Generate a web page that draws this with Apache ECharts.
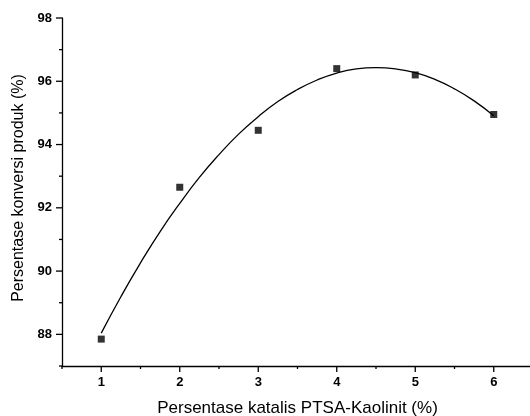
<!DOCTYPE html>
<html><head><meta charset="utf-8">
<script src="https://cdn.jsdelivr.net/npm/echarts@6/dist/echarts.min.js"></script>
<style>html,body{margin:0;padding:0;background:#fff}#c{width:530px;height:416px}</style>
</head><body><div id="c"></div>
<script>
const pointX = [1, 2, 3, 4, 5, 6];
const pointY = [87.85, 92.65, 94.45, 96.4, 96.2, 94.95];
const curveX = [1, 1.25, 1.5, 1.75, 2, 2.25, 2.5, 2.75, 3, 3.25, 3.5, 3.75, 4, 4.25, 4.5, 4.75, 5, 5.25, 5.5, 5.75, 6];
const curveY = [88.04, 89.19, 90.26, 91.25, 92.14, 92.96, 93.68, 94.33, 94.88, 95.36, 95.74, 96.04, 96.26, 96.39, 96.43, 96.39, 96.27, 96.06, 95.76, 95.38, 94.91];
const xTitle = 'Persentase katalis PTSA-Kaolinit (%)';
const yTitle = 'Persentase konversi produk (%)';

const chart = echarts.init(document.getElementById('c'), null, {renderer: 'canvas'});
const font = 'Liberation Sans, Arial, sans-serif';
chart.setOption({
  animation: false,
  grid: {left: 62, right: -3, top: 18, bottom: 50, containLabel: false, outerBoundsMode: 'none'},
  xAxis: {
    type: 'value', min: 0.5, max: 6.5, interval: 0.5,
    name: xTitle, nameLocation: 'middle', nameGap: 34,
    nameTextStyle: {fontFamily: font, fontSize: 17, color: '#000'},
    axisLine: {lineStyle: {color: '#000', width: 1.3}},
    axisTick: {show: false},
    axisLabel: {fontFamily: font, fontSize: 13, fontWeight: 'bold', color: '#000', margin: 10,
      formatter: v => Number.isInteger(v) ? String(v) : ''},
    splitLine: {show: false}
  },
  yAxis: {
    type: 'value', min: 87, max: 98, interval: 1,
    name: yTitle, nameLocation: 'middle', nameGap: 34,
    nameTextStyle: {fontFamily: font, fontSize: 16, color: '#000', padding: [0, 0, 0, 8]},
    axisLine: {lineStyle: {color: '#000', width: 1.3}},
    axisTick: {show: false},
    axisLabel: {fontFamily: font, fontSize: 13, fontWeight: 'bold', color: '#000', margin: 10,
      formatter: v => (v % 2 === 0) ? String(v) : ''},
    splitLine: {show: false}
  },
  series: [
    {
      type: 'line', data: curveX.map((x, i) => [x, curveY[i]]), smooth: true,
      showSymbol: false, lineStyle: {color: '#000', width: 1.3}, z: 2
    },
    {
      type: 'scatter', data: pointX.map((x, i) => [x, pointY[i]]),
      symbol: 'rect', symbolSize: 7, itemStyle: {color: '#000'}, z: 3
    },
    {
      type: 'custom', silent: true, z: 1,
      data: [0],
      renderItem: function (params, api) {
        const children = [];
        for (let v = 87; v <= 98; v++) {
          const p = api.coord([0.5, v]);
          const len = (v % 2 === 0) ? 6 : 3;
          children.push({type: 'line', shape: {x1: p[0] - len, y1: p[1], x2: p[0], y2: p[1]},
            style: {stroke: '#000', lineWidth: 1.3}});
        }
        for (let k = 1; k <= 13; k++) {
          const v = k * 0.5;
          const p = api.coord([v, 87]);
          const len = Number.isInteger(v) ? 6 : 3;
          children.push({type: 'line', shape: {x1: p[0], y1: p[1], x2: p[0], y2: p[1] + len},
            style: {stroke: '#000', lineWidth: 1.3}});
        }
        return {type: 'group', children: children};
      }
    }
  ]
});
</script></body></html>
